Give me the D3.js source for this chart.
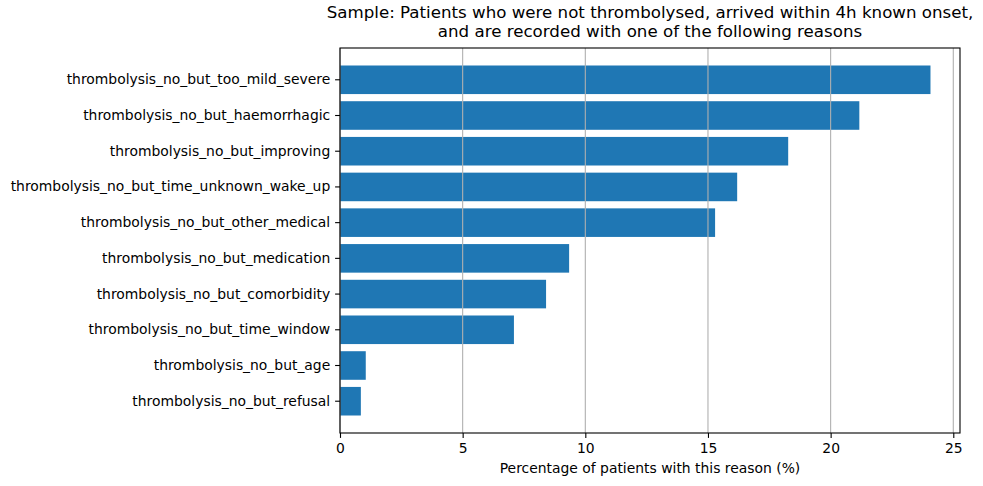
<!DOCTYPE html>
<html>
<head>
<meta charset="utf-8">
<script src="https://cdn.jsdelivr.net/npm/d3@7"></script>
<style>
  body { margin: 0; background: #fff; }
  text { font-family: "DejaVu Sans", sans-serif; fill: #000; }
</style>
</head>
<body>
<script>
// 画布大小
const width = 983;
const height = 486;

// 数据：从上到下
const reasons = [
  'thrombolysis_no_but_too_mild_severe',
  'thrombolysis_no_but_haemorrhagic',
  'thrombolysis_no_but_improving',
  'thrombolysis_no_but_time_unknown_wake_up',
  'thrombolysis_no_but_other_medical',
  'thrombolysis_no_but_medication',
  'thrombolysis_no_but_comorbidity',
  'thrombolysis_no_but_time_window',
  'thrombolysis_no_but_age',
  'thrombolysis_no_but_refusal'
];
const percentages = [24.07, 21.17, 18.27, 16.19, 15.29, 9.34, 8.40, 7.09, 1.05, 0.85];
const xTicks = [0, 5, 10, 15, 20, 25];
const titleLines = [
  'Sample: Patients who were not thrombolysed, arrived within 4h known onset,',
  'and are recorded with one of the following reasons'
];
const xLabel = 'Percentage of patients with this reason (%)';

// 坐标区
const padding = { left: 340, right: 23, top: 48, bottom: 53 };
const plotW = width - padding.left - padding.right;
const plotH = height - padding.top - padding.bottom;

const svg = d3
  .select('body')
  .append('svg')
  .attr('width', width)
  .attr('height', height);

const g = svg
  .append('g')
  .attr('transform', 'translate(' + padding.left + ',' + padding.top + ')');

// x轴比例尺（右侧留5%空白）
const xScale = d3
  .scaleLinear()
  .domain([0, d3.max(percentages) * 1.05])
  .range([0, plotW]);

// y轴比例尺
const yScale = d3
  .scaleBand()
  .domain(reasons)
  .range([0, plotH])
  .paddingInner(0.2)
  .paddingOuter(0.49);

// 矩形
g.selectAll('.bar')
  .data(percentages)
  .enter()
  .append('rect')
  .attr('class', 'bar')
  .attr('x', xScale(0))
  .attr('y', function(d, i) {
    return yScale(reasons[i]);
  })
  .attr('width', function(d) {
    return xScale(d) - xScale(0);
  })
  .attr('height', yScale.bandwidth())
  .attr('fill', '#1f77b4');

// 网格线（在矩形上面）
g.selectAll('.grid')
  .data(xTicks)
  .enter()
  .append('line')
  .attr('class', 'grid')
  .attr('x1', function(d) { return xScale(d); })
  .attr('x2', function(d) { return xScale(d); })
  .attr('y1', 0)
  .attr('y2', plotH)
  .attr('stroke', '#b0b0b0')
  .attr('stroke-width', 1.1);

// x轴
const xAxis = d3.axisBottom(xScale).tickValues(xTicks).tickSize(4.9).tickPadding(4.9);
const gx = g
  .append('g')
  .attr('transform', 'translate(0,' + plotH + ')')
  .call(xAxis);

// y轴
const yAxis = d3.axisLeft(yScale).tickSize(4.9).tickPadding(4.9);
const gy = g.append('g').call(yAxis);

[gx, gy].forEach(function(ax) {
  ax.select('.domain').remove();
  ax.selectAll('.tick line').attr('stroke', '#000').attr('stroke-width', 1.1);
  ax.selectAll('.tick text')
    .attr('font-family', '"DejaVu Sans", sans-serif')
    .attr('font-size', '13.9px')
    .attr('fill', '#000');
});

// 边框
g.append('rect')
  .attr('x', 0)
  .attr('y', 0)
  .attr('width', plotW)
  .attr('height', plotH)
  .attr('fill', 'none')
  .attr('stroke', '#000')
  .attr('stroke-width', 1.1);

// 标题（两行）
svg
  .append('text')
  .attr('text-anchor', 'middle')
  .attr('font-size', '16.67px')
  .selectAll('tspan')
  .data(titleLines)
  .enter()
  .append('tspan')
  .attr('x', padding.left + plotW / 2)
  .attr('y', function(d, i) {
    return 18 + i * 18.5;
  })
  .text(function(d) { return d; });

// x轴标签
svg
  .append('text')
  .attr('x', padding.left + plotW / 2)
  .attr('y', 473)
  .attr('text-anchor', 'middle')
  .attr('font-size', '13.9px')
  .text(xLabel);
</script>
</body>
</html>
